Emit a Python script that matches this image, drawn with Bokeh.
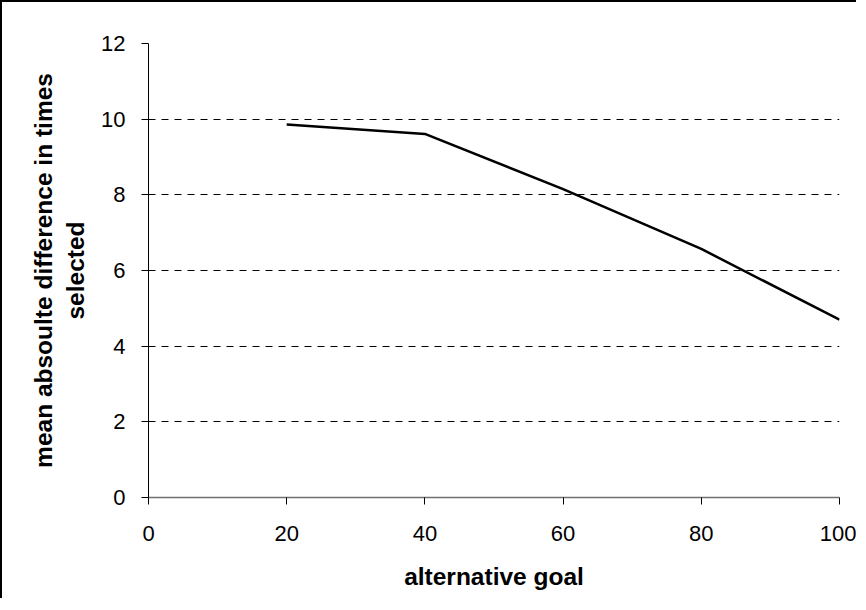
from bokeh.plotting import figure
from bokeh.models import Range1d, FixedTicker
from bokeh.embed import file_html
from bokeh.resources import INLINE

# data
goal = [20, 40, 60, 80, 100]
mean_abs_diff = [9.86, 9.61, 8.15, 6.57, 4.70]
x_ticks = [0, 20, 40, 60, 80, 100]
y_ticks = [0, 2, 4, 6, 8, 10, 12]

FONT = "Liberation Sans"

p = figure(width=856, height=598, output_backend="svg", toolbar_location=None,
           x_range=Range1d(0, 100), y_range=Range1d(0, 12),
           min_border_left=146, min_border_top=41, min_border_right=19, min_border_bottom=103)
p.styles = {"border-top": "2px solid #000", "border-left": "2px solid #000"}
p.outline_line_color = None
p.background_fill_color = "white"
p.border_fill_color = "white"

p.line(goal, mean_abs_diff, line_color="black", line_width=2.5)

p.xaxis.ticker = FixedTicker(ticks=x_ticks)
p.yaxis.ticker = FixedTicker(ticks=y_ticks)
p.xaxis.minor_tick_line_color = None
p.yaxis.minor_tick_line_color = None
for ax in (p.xaxis, p.yaxis):
    ax.major_tick_out = 7
    ax.major_tick_in = 0
    ax.axis_line_color = "black"
    ax.major_tick_line_color = "black"
    ax.major_label_text_font = FONT
    ax.major_label_text_font_size = "22px"
    ax.major_label_text_color = "black"
    ax.axis_label_text_font = FONT
    ax.axis_label_text_font_style = "bold"
    ax.axis_label_text_font_size = "24.5px"
    ax.axis_label_text_color = "black"
p.xaxis.axis_line_color = "#707070"
p.xaxis.axis_line_width = 1.5
p.xaxis.axis_label = "alternative goal"
p.yaxis.axis_label = "mean absoulte difference in times\nselected"
p.xaxis.major_label_standoff = 21
p.yaxis.major_label_standoff = 16
p.xaxis.axis_label_standoff = 19
p.yaxis.axis_label_standoff = 9

p.xgrid.grid_line_color = None
p.ygrid.ticker = FixedTicker(ticks=[2, 4, 6, 8, 10, 12])
p.ygrid.grid_line_color = "black"
p.ygrid.grid_line_dash = "7 6"
p.ygrid.grid_line_width = 1

open("out.html", "w").write(file_html(p, INLINE))
